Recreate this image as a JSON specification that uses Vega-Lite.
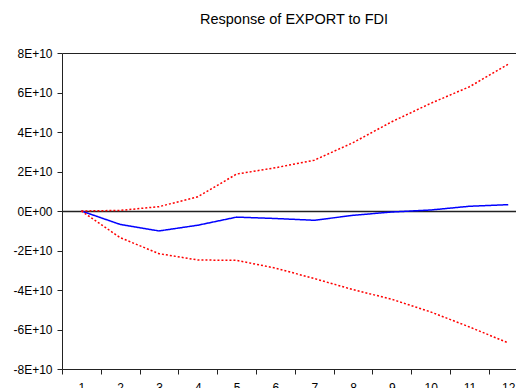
{
  "$schema": "https://vega.github.io/schema/vega-lite/v6.json",
  "width": 454,
  "height": 316,
  "autosize": {"type": "none"},
  "padding": {"left": 62, "top": 53, "right": 0, "bottom": 19},
  "background": "white",
  "config": {
    "font": "Liberation Sans",
    "view": {"stroke": null},
    "axis": {
      "grid": false,
      "title": null,
      "domainColor": "#222",
      "tickColor": "#222",
      "tickSize": 5,
      "labelFontSize": 12,
      "labelOverlap": false
    }
  },
  "title": {"text": "Response of EXPORT to FDI", "fontSize": 14.5, "fontWeight": "normal", "dx": 5, "offset": 20},
  "data": {
    "values": [
      {"period": 1, "series": "Response", "value": 0},
      {"period": 2, "series": "Response", "value": -6800000000},
      {"period": 3, "series": "Response", "value": -10100000000},
      {"period": 4, "series": "Response", "value": -7200000000},
      {"period": 5, "series": "Response", "value": -3100000000},
      {"period": 6, "series": "Response", "value": -3800000000},
      {"period": 7, "series": "Response", "value": -4700000000},
      {"period": 8, "series": "Response", "value": -2200000000},
      {"period": 9, "series": "Response", "value": -500000000},
      {"period": 10, "series": "Response", "value": 500000000},
      {"period": 11, "series": "Response", "value": 2400000000},
      {"period": 12, "series": "Response", "value": 3200000000},
      {"period": 1, "series": "Upper", "value": 0},
      {"period": 2, "series": "Upper", "value": 300000000},
      {"period": 3, "series": "Upper", "value": 2200000000},
      {"period": 4, "series": "Upper", "value": 7200000000},
      {"period": 5, "series": "Upper", "value": 18700000000},
      {"period": 6, "series": "Upper", "value": 21900000000},
      {"period": 7, "series": "Upper", "value": 25700000000},
      {"period": 8, "series": "Upper", "value": 34600000000},
      {"period": 9, "series": "Upper", "value": 45200000000},
      {"period": 10, "series": "Upper", "value": 54500000000},
      {"period": 11, "series": "Upper", "value": 62900000000},
      {"period": 12, "series": "Upper", "value": 74300000000},
      {"period": 1, "series": "Lower", "value": 0},
      {"period": 2, "series": "Lower", "value": -13500000000},
      {"period": 3, "series": "Lower", "value": -21600000000},
      {"period": 4, "series": "Lower", "value": -24800000000},
      {"period": 5, "series": "Lower", "value": -25000000000},
      {"period": 6, "series": "Lower", "value": -28900000000},
      {"period": 7, "series": "Lower", "value": -34200000000},
      {"period": 8, "series": "Lower", "value": -39800000000},
      {"period": 9, "series": "Lower", "value": -44700000000},
      {"period": 10, "series": "Lower", "value": -51100000000},
      {"period": 11, "series": "Lower", "value": -58700000000},
      {"period": 12, "series": "Lower", "value": -66800000000}
    ]
  },
  "mark": {"type": "line", "strokeWidth": 1.5},
  "encoding": {
    "x": {
      "field": "period",
      "type": "quantitative",
      "scale": {"domain": [0.5, 12.2], "nice": false, "zero": false},
      "axis": {
        "values": [0.5, 1.5, 2.5, 3.5, 4.5, 5.5, 6.5, 7.5, 8.5, 9.5, 10.5, 11.5],
        "labelExpr": "'' + (datum.value + 0.5)",
        "labelOffset": 19.4,
        "labelPadding": 8,
        "labelFlush": false,
        "labelOverlap": false
      }
    },
    "y": {
      "field": "value",
      "type": "quantitative",
      "scale": {"domain": [-80000000000, 80000000000], "nice": false, "zero": false},
      "axis": {
        "values": [-80000000000, -60000000000, -40000000000, -20000000000, 0, 20000000000, 40000000000, 60000000000, 80000000000],
        "labelExpr": "datum.value == 0 ? '0E+00' : (datum.value / 10000000000) + 'E+10'",
        "labelPadding": 5,
        "labelFlush": false,
        "labelOverlap": false,
        "grid": true,
        "gridWidth": {"condition": {"test": "datum.value === 0", "value": 1.5}, "value": 1},
        "gridColor": {"condition": {"test": "datum.value === 0 || datum.value === 80000000000", "value": "#222"}, "value": "transparent"}
      }
    },
    "color": {
      "field": "series",
      "type": "nominal",
      "scale": {"domain": ["Lower", "Response", "Upper"], "range": ["#ff0000", "#0000ff", "#ff0000"]},
      "legend": null
    },
    "strokeDash": {
      "field": "series",
      "type": "nominal",
      "scale": {"domain": ["Lower", "Response", "Upper"], "range": [[2, 2], [1, 0], [2, 2]]},
      "legend": null
    }
  }
}
